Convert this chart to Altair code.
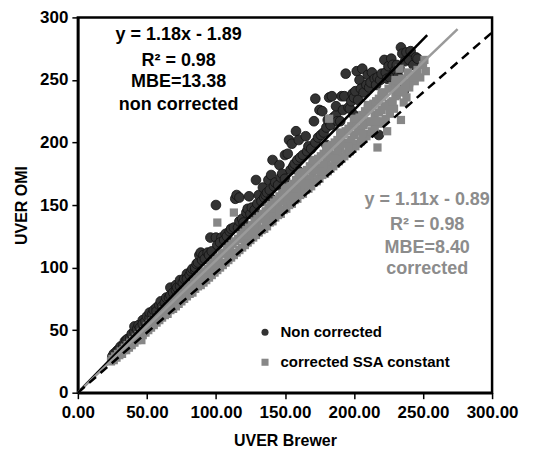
import altair as alt
import pandas as pd

# ---- data ----
dark_x = [25,26,28,29,30,31,33,34,35,36,38,39,41,41,43,44,45,47,47,49,50,52,52,54,55,57,57,59,60,61,63,64,66,67,67,69,71,71,72,74,74,76,77,79,79,81,82,83,85,85,86,87,88,89,90,91,92,94,95,96,97,100,100,101,104,103,106,107,108,110,111,113,114,115,116,117,117,119,120,122,123,124,125,126,128,129,130,131,133,134,135,136,137,138,139,140,141,142,143,145,146,147,148,150,150,152,153,154,155,156,157,158,159,160,161,163,165,166,167,169,171,172,172,174,175,176,177,178,180,181,182,183,184,185,187,187,188,190,191,192,193,194,196,197,198,199,200,201,202,203,204,205,206,207,209,210,211,212,213,215,216,217,218,219,220,222,223,224,225,226,227,228,229,230,231,232,233,234,235,235,236,237,238,240,241,243,245,246,120,140,160,180,200]
dark_y = [29,31,33,34,35,37,38,41,42,43,44,47,49,53,51,54,52,58,55,57,61,60,64,63,66,68,65,70,73,69,72,76,76,78,84,80,82,86,84,85,90,88,91,95,91,94,97,99,98,100,103,104,110,112,106,110,107,112,110,124,113,124,150,118,124,120,122,127,125,129,131,132,155,158,132,137,156,139,136,144,147,157,143,148,146,170,151,158,153,164,156,158,160,170,162,174,186,165,168,166,182,172,175,190,171,191,202,178,199,181,183,209,186,202,188,190,205,193,197,195,217,235,200,204,226,206,225,208,212,218,236,214,237,220,222,229,217,217,237,226,237,255,228,227,233,239,236,241,257,234,250,243,259,240,246,254,244,248,256,251,246,252,206,250,255,266,256,251,261,252,267,262,256,258,262,253,259,276,271,247,241,265,272,266,273,262,268,267,132,155,177,198,222]

grey_x = [24,25,26,27,28,29,30,31,32,33,34,35,36,37,38,39,40,41,42,43,44,46,46,47,48,49,50,51,52,53,54,55,56,57,58,59,60,61,62,63,64,65,66,67,68,69,70,71,72,73,74,75,76,77,78,79,80,81,82,83,84,85,86,87,88,89,90,91,92,93,94,95,96,97,98,99,100,101,101,102,103,104,105,106,107,108,109,110,111,112,113,113,114,115,116,117,118,119,120,121,122,123,124,125,126,127,128,129,130,131,132,133,134,135,136,137,138,139,140,141,142,143,144,145,146,147,148,149,150,151,152,153,154,155,156,157,158,159,160,161,162,163,164,165,166,167,168,169,170,171,172,173,174,175,176,177,178,179,180,181,182,182,183,184,185,186,187,188,189,190,191,192,193,194,195,196,197,198,199,200,201,202,203,204,205,206,207,208,209,210,211,212,213,214,215,216,217,218,219,220,221,222,223,224,225,226,227,228,229,230,231,232,233,234,235,236,238,239,240,242,244,246,248,250,252,251,60,70,80,90,100,110,120,130,140,150,160,170,180,190,200,210,220,230,240,145,155,165,175,185,195,205,215,225,235,
          122,128,134,138,144,148,152,158,162,168,172,178,183,188,192,198,203,207,212,218,222,228,232,237,243,126,136,146,156,166,176,186,196,206,216,226,236,150,160,170,180,190,200,210,220,230]
grey_y = [25,27,26,29,28,31,30,33,31,34,36,34,38,36,40,38,42,40,44,42,46,42,48,46,50,48,53,50,55,52,57,54,59,56,61,58,63,60,66,62,67,63,70,66,72,67,74,69,76,71,78,73,80,75,83,77,85,79,86,80,89,83,91,85,93,86,95,88,97,90,99,92,102,94,104,96,106,136,98,108,100,111,102,112,104,115,106,117,108,119,144,110,121,112,123,114,126,116,128,118,130,120,132,122,134,124,137,126,139,128,141,130,143,131,145,133,148,136,150,137,152,140,154,142,157,143,159,146,160,147,163,150,165,151,167,154,170,155,171,158,174,159,176,162,178,163,181,165,182,168,185,169,187,171,189,174,191,175,194,177,219,196,179,198,181,200,183,202,185,205,187,207,189,209,191,211,193,213,195,216,197,218,199,220,201,222,203,225,205,227,207,229,209,231,211,233,196,235,215,237,217,240,219,209,243,223,232,245,227,247,238,249,259,218,251,240,236,256,248,254,249,258,252,262,257,266,61,71,82,92,102,113,123,133,144,154,164,175,185,195,206,216,226,237,244,150,159,170,180,190,200,211,222,231,242,
          126,132,139,141,147,153,156,162,168,171,178,182,188,193,199,202,209,214,217,224,229,233,241,246,252,129,137,146,157,167,177,187,197,207,217,226,232,164,176,186,197,208,219,230,240,250]

series_names = ["Non corrected", "corrected SSA constant"]
series_colors = ["#333333", "#878787"]

# fitted lines as drawn in the picture (slope, x range)
line_names = ["fit non corrected", "fit corrected", "reference"]
line_slopes = [1.13, 1.057, 0.96]
line_x0 = [0, 0, 0]
line_x1 = [253, 275, 300]

# annotations
ann_black = ["y = 1.18x - 1.89", "R² = 0.98", "MBE=13.38", "non corrected"]
ann_grey = ["y = 1.11x - 0.89", "R² = 0.98", "MBE=8.40", "corrected"]
ann_black_x = 73
ann_black_y = [286, 265, 248, 230]
ann_grey_x = 253
ann_grey_y = [154, 134, 116, 99]

dark_df = pd.DataFrame({"x": dark_x, "y": dark_y, "series": series_names[0]})
grey_df = pd.DataFrame({"x": grey_x, "y": grey_y, "series": series_names[1]})

rows = []
for n, s, a, b in zip(line_names, line_slopes, line_x0, line_x1):
    rows.append({"name": n, "x": a, "y": s * a})
    rows.append({"name": n, "x": b, "y": s * b})
lines_df = pd.DataFrame(rows)

xs = alt.X("x:Q", scale=alt.Scale(domain=[0, 300], nice=False, zero=True),
           axis=alt.Axis(title="UVER Brewer", values=[0, 50, 100, 150, 200, 250, 300],
                         format=".2f", labelOverlap=False, labelFlush=False))
ys = alt.Y("y:Q", scale=alt.Scale(domain=[0, 300], nice=False),
           axis=alt.Axis(title="UVER OMI", values=[0, 50, 100, 150, 200, 250, 300],
                         labelOverlap=False, labelFlush=False))

color_scale = alt.Scale(domain=series_names, range=series_colors)
shape_scale = alt.Scale(domain=series_names, range=["circle", "square"])
legend = alt.Legend(title=None, orient="none", legendX=180, legendY=308,
                    labelFont="Liberation Sans", labelFontWeight="bold",
                    labelFontSize=15, labelColor="black", symbolSize=50,
                    rowPadding=14, labelOffset=8, padding=0, symbolStrokeWidth=0,
                    labelLimit=400)

dark = alt.Chart(dark_df).mark_point(filled=True, size=95, opacity=1,
                                     stroke="#111111", strokeWidth=0.8).encode(
    x=xs, y=ys,
    color=alt.Color("series:N", scale=color_scale, legend=legend),
    shape=alt.Shape("series:N", scale=shape_scale, legend=legend),
)
grey = alt.Chart(grey_df).mark_point(filled=True, size=68, opacity=1).encode(
    x=xs, y=ys,
    color=alt.Color("series:N", scale=color_scale, legend=legend),
    shape=alt.Shape("series:N", scale=shape_scale, legend=legend),
)

fit_black = alt.Chart(lines_df[lines_df.name == line_names[0]]).mark_line(
    color="black", strokeWidth=2.5).encode(x="x:Q", y="y:Q")
fit_grey = alt.Chart(lines_df[lines_df.name == line_names[1]]).mark_line(
    color="#9a9a9a", strokeWidth=2.5).encode(x="x:Q", y="y:Q")
ref = alt.Chart(lines_df[lines_df.name == line_names[2]]).mark_line(
    color="black", strokeWidth=2.5, strokeDash=[9, 6]).encode(x="x:Q", y="y:Q")

tb = pd.DataFrame({"t": ann_black, "x": ann_black_x, "y": ann_black_y})
tg = pd.DataFrame({"t": ann_grey, "x": ann_grey_x, "y": ann_grey_y})
txt_black = alt.Chart(tb).mark_text(font="Liberation Sans", fontWeight="bold",
                                    fontSize=18, color="black").encode(
    x="x:Q", y="y:Q", text="t:N")
txt_grey = alt.Chart(tg).mark_text(font="Liberation Sans", fontWeight="bold",
                                   fontSize=18, color="#8c8c8c").encode(
    x="x:Q", y="y:Q", text="t:N")

chart = alt.layer(dark, grey, fit_black, fit_grey, ref, txt_black, txt_grey).properties(
    width=415, height=376,
    autosize=alt.AutoSizeParams(type="none"),
    padding={"left": 70, "top": 9, "right": 40, "bottom": 55},
).configure_view(
    stroke="black", strokeWidth=2.5
).configure_axis(
    grid=False, domainColor="black", domainWidth=2.5, tickColor="black",
    tickWidth=1.5, tickSize=6, labelFont="Liberation Sans", labelFontWeight="bold",
    labelFontSize=17, labelColor="black", titleFont="Liberation Sans",
    titleFontWeight="bold", titleFontSize=16, titleColor="black",
).configure_axisY(
    labelPadding=4, titlePadding=10
).configure_axisX(
    labelPadding=6, titlePadding=12
)

chart.save("out.html", embed_options={"renderer": "svg", "actions": False})
